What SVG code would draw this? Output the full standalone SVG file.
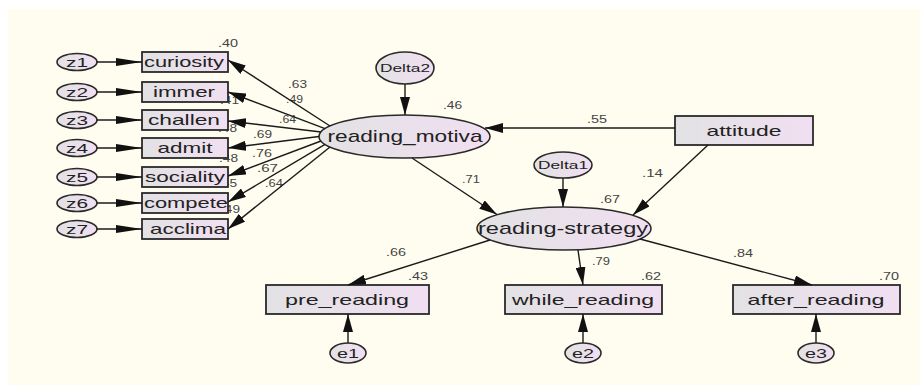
<svg xmlns="http://www.w3.org/2000/svg" width="920" height="385" viewBox="0 0 920 385">
<defs>
<linearGradient id="fillG" x1="0" y1="0" x2="1" y2="0">
<stop offset="0" stop-color="#e2e2e4"/>
<stop offset="1" stop-color="#f1dff1"/>
</linearGradient>
<marker id="ah" markerUnits="userSpaceOnUse" markerWidth="18" markerHeight="10" refX="18" refY="5" orient="auto">
<path d="M0,0 L18,5 L0,10 Z" fill="#111"/>
</marker>
<marker id="ahL" markerUnits="userSpaceOnUse" markerWidth="26" markerHeight="8" refX="26" refY="4" orient="auto">
<path d="M0,0 L26,4 L0,8 Z" fill="#111"/>
</marker>
<style>
.box{fill:url(#fillG);stroke:#2a2a2a;stroke-width:1.8}
.ell{fill:url(#fillG);stroke:#2a2a2a;stroke-width:1.6}
.t{font-family:"Liberation Sans",Arial,sans-serif;font-size:15px;fill:#222;text-anchor:middle}
.tl{font-family:"Liberation Sans",Arial,sans-serif;font-size:17px;fill:#222;text-anchor:middle}
.ts{font-family:"Liberation Sans",Arial,sans-serif;font-size:11px;fill:#222;text-anchor:middle}
.tz{font-family:"Liberation Sans",Arial,sans-serif;font-size:13px;fill:#222;text-anchor:middle}
.lab{font-family:"Liberation Sans",Arial,sans-serif;font-size:11px;fill:#444}
.labe{font-family:"Liberation Sans",Arial,sans-serif;font-size:11px;fill:#444;text-anchor:end}
.c{stroke:#1a1a1a;stroke-width:1.4;fill:none;marker-end:url(#ah)}
.cz{stroke:#1a1a1a;stroke-width:1.4;fill:none;marker-end:url(#ahL)}
</style>
</defs>
<rect x="0" y="0" width="920" height="385" fill="#ffffff"/>
<rect x="8" y="9" width="912" height="376" fill="#fffdef"/>

<g id="labels">
<text class="lab" x="218" y="47" textLength="20" lengthAdjust="spacingAndGlyphs">.40</text>
<text class="labe" x="239" y="104" textLength="19" lengthAdjust="spacingAndGlyphs">.41</text>
<text class="labe" x="237" y="132" textLength="19" lengthAdjust="spacingAndGlyphs">.48</text>
<text class="labe" x="238" y="162" textLength="19" lengthAdjust="spacingAndGlyphs">.48</text>
<text class="labe" x="237" y="187" textLength="19" lengthAdjust="spacingAndGlyphs">.45</text>
<text class="labe" x="240" y="213" textLength="19" lengthAdjust="spacingAndGlyphs">.49</text>
<text class="lab" x="288" y="88" textLength="19" lengthAdjust="spacingAndGlyphs">.63</text>
<text class="lab" x="286" y="103" textLength="17" lengthAdjust="spacingAndGlyphs">.49</text>
<text class="lab" x="279" y="123" textLength="17" lengthAdjust="spacingAndGlyphs">.64</text>
<text class="lab" x="253" y="138" textLength="19" lengthAdjust="spacingAndGlyphs">.69</text>
<text class="lab" x="252" y="157" textLength="20" lengthAdjust="spacingAndGlyphs">.76</text>
<text class="lab" x="257" y="172" textLength="21" lengthAdjust="spacingAndGlyphs">.67</text>
<text class="lab" x="265" y="187" textLength="18" lengthAdjust="spacingAndGlyphs">.64</text>
<text class="lab" x="443" y="109" textLength="19" lengthAdjust="spacingAndGlyphs">.46</text>
<text class="lab" x="462" y="183" textLength="18" lengthAdjust="spacingAndGlyphs">.71</text>
<text class="lab" x="587" y="123" textLength="20" lengthAdjust="spacingAndGlyphs">.55</text>
<text class="lab" x="642" y="177" textLength="21" lengthAdjust="spacingAndGlyphs">.14</text>
<text class="lab" x="600" y="203" textLength="20" lengthAdjust="spacingAndGlyphs">.67</text>
<text class="lab" x="592" y="265" textLength="18" lengthAdjust="spacingAndGlyphs">.79</text>
<text class="lab" x="733" y="257" textLength="20" lengthAdjust="spacingAndGlyphs">.84</text>
<text class="lab" x="386" y="256" textLength="20" lengthAdjust="spacingAndGlyphs">.66</text>
<text class="lab" x="408" y="280" textLength="20" lengthAdjust="spacingAndGlyphs">.43</text>
<text class="lab" x="641" y="280" textLength="20" lengthAdjust="spacingAndGlyphs">.62</text>
<text class="lab" x="879" y="280" textLength="20" lengthAdjust="spacingAndGlyphs">.70</text>
</g>

<g id="curiosity"><rect class="box" x="142" y="52" width="86" height="20"/><text class="t" x="184" y="67" textLength="80" lengthAdjust="spacingAndGlyphs">curiosity</text></g>
<g id="immer"><rect class="box" x="142" y="82" width="86" height="20"/><text class="t" x="184" y="97" textLength="62" lengthAdjust="spacingAndGlyphs">immer</text></g>
<g id="challen"><rect class="box" x="142" y="110" width="86" height="20"/><text class="t" x="184" y="125" textLength="72" lengthAdjust="spacingAndGlyphs">challen</text></g>
<g id="admit"><rect class="box" x="142" y="138" width="86" height="20"/><text class="t" x="185" y="153" textLength="55" lengthAdjust="spacingAndGlyphs">admit</text></g>
<g id="sociality"><rect class="box" x="142" y="167" width="86" height="20"/><text class="t" x="185" y="182" textLength="80" lengthAdjust="spacingAndGlyphs">sociality</text></g>
<g id="compete"><rect class="box" x="142" y="193" width="86" height="20"/><text class="t" x="186" y="208" textLength="84" lengthAdjust="spacingAndGlyphs">compete</text></g>
<g id="acclima"><rect class="box" x="142" y="219" width="86" height="20"/><text class="t" x="188" y="234" textLength="76" lengthAdjust="spacingAndGlyphs">acclima</text></g>

<g id="z1"><ellipse class="ell" cx="77" cy="62" rx="20" ry="8.5"/><text class="tz" x="77" y="67" textLength="22" lengthAdjust="spacingAndGlyphs">z1</text></g>
<g id="z2"><ellipse class="ell" cx="77" cy="92" rx="20" ry="8.5"/><text class="tz" x="77" y="97" textLength="22" lengthAdjust="spacingAndGlyphs">z2</text></g>
<g id="z3"><ellipse class="ell" cx="77" cy="120" rx="20" ry="8.5"/><text class="tz" x="77" y="125" textLength="22" lengthAdjust="spacingAndGlyphs">z3</text></g>
<g id="z4"><ellipse class="ell" cx="77" cy="148" rx="20" ry="8.5"/><text class="tz" x="77" y="153" textLength="22" lengthAdjust="spacingAndGlyphs">z4</text></g>
<g id="z5"><ellipse class="ell" cx="77" cy="177" rx="20" ry="8.5"/><text class="tz" x="77" y="182" textLength="22" lengthAdjust="spacingAndGlyphs">z5</text></g>
<g id="z6"><ellipse class="ell" cx="77" cy="203" rx="20" ry="8.5"/><text class="tz" x="77" y="208" textLength="22" lengthAdjust="spacingAndGlyphs">z6</text></g>
<g id="z7"><ellipse class="ell" cx="77" cy="229" rx="20" ry="8.5"/><text class="tz" x="77" y="234" textLength="22" lengthAdjust="spacingAndGlyphs">z7</text></g>

<g id="reading_motiva"><ellipse class="ell" cx="404.5" cy="136.5" rx="85.5" ry="21.5"/><text class="tl" x="405" y="142" textLength="155" lengthAdjust="spacingAndGlyphs">reading_motiva</text></g>
<g id="Delta2"><ellipse class="ell" cx="405" cy="68" rx="29" ry="16"/><text class="ts" x="405" y="72" textLength="50" lengthAdjust="spacingAndGlyphs">Delta2</text></g>
<g id="attitude"><rect class="box" x="675" y="116" width="138" height="29"/><text class="t" x="744" y="136" textLength="75" lengthAdjust="spacingAndGlyphs">attitude</text></g>
<g id="Delta1"><ellipse class="ell" cx="563" cy="165" rx="29" ry="13"/><text class="ts" x="563" y="169" textLength="50" lengthAdjust="spacingAndGlyphs">Delta1</text></g>
<g id="reading-strategy"><ellipse class="ell" cx="564" cy="228.5" rx="87" ry="21.5"/><text class="tl" x="563" y="234" textLength="170" lengthAdjust="spacingAndGlyphs">reading-strategy</text></g>

<g id="pre_reading"><rect class="box" x="266" y="285" width="163" height="29"/><text class="t" x="347" y="305" textLength="124" lengthAdjust="spacingAndGlyphs">pre_reading</text></g>
<g id="while_reading"><rect class="box" x="505" y="285" width="157" height="29"/><text class="t" x="583" y="305" textLength="142" lengthAdjust="spacingAndGlyphs">while_reading</text></g>
<g id="after_reading"><rect class="box" x="733" y="285" width="167" height="29"/><text class="t" x="816" y="305" textLength="137" lengthAdjust="spacingAndGlyphs">after_reading</text></g>

<g id="e1"><ellipse class="ell" cx="348" cy="353" rx="18" ry="10"/><text class="tz" x="348" y="358" textLength="22" lengthAdjust="spacingAndGlyphs">e1</text></g>
<g id="e2"><ellipse class="ell" cx="583" cy="353" rx="18" ry="10"/><text class="tz" x="583" y="358" textLength="22" lengthAdjust="spacingAndGlyphs">e2</text></g>
<g id="e3"><ellipse class="ell" cx="816" cy="353" rx="18" ry="10"/><text class="tz" x="816" y="358" textLength="22" lengthAdjust="spacingAndGlyphs">e3</text></g>

<g id="connectors">
<line class="cz" x1="97" y1="62" x2="142" y2="62"/>
<line class="cz" x1="97" y1="92" x2="142" y2="92"/>
<line class="cz" x1="97" y1="120" x2="142" y2="120"/>
<line class="cz" x1="97" y1="148" x2="142" y2="148"/>
<line class="cz" x1="97" y1="177" x2="142" y2="177"/>
<line class="cz" x1="97" y1="203" x2="142" y2="203"/>
<line class="cz" x1="97" y1="229" x2="142" y2="229"/>
<line class="c" x1="330" y1="126" x2="228" y2="60"/>
<line class="c" x1="325" y1="128.6" x2="228" y2="92"/>
<line class="c" x1="321" y1="132" x2="228" y2="121"/>
<line class="c" x1="319" y1="136.5" x2="228" y2="148"/>
<line class="c" x1="321" y1="141" x2="228" y2="176"/>
<line class="c" x1="325" y1="144.4" x2="228" y2="202"/>
<line class="c" x1="330" y1="147" x2="228" y2="229"/>
<line class="c" x1="405" y1="84" x2="405" y2="115"/>
<line class="c" x1="675" y1="128" x2="485" y2="128"/>
<line class="c" x1="412" y1="158" x2="497" y2="214.5"/>
<line class="c" x1="708" y1="145" x2="633" y2="215"/>
<line class="c" x1="563" y1="178" x2="563" y2="207"/>
<line class="c" x1="490" y1="240" x2="348" y2="285"/>
<line class="c" x1="578" y1="250" x2="583" y2="285"/>
<line class="c" x1="640" y1="239" x2="812" y2="285"/>
<line class="c" x1="348" y1="343" x2="348" y2="314"/>
<line class="c" x1="583" y1="343" x2="583" y2="314"/>
<line class="c" x1="816" y1="343" x2="816" y2="314"/>
</g>
</svg>
